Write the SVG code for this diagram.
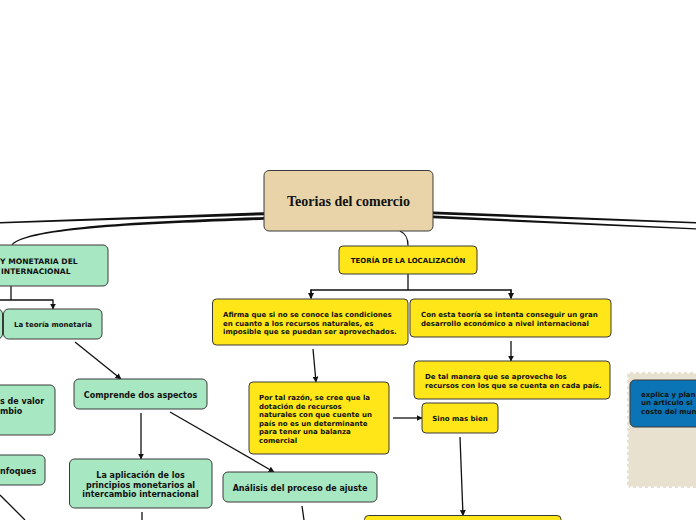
<svg xmlns="http://www.w3.org/2000/svg" width="696" height="520" viewBox="0 0 696 520">
<defs>
<marker id="arr" viewBox="0 0 10 10" refX="9" refY="5" markerWidth="6" markerHeight="6" markerUnits="userSpaceOnUse" orient="auto">
<path d="M0,0 L10,5 L0,10 Z" fill="#111"/>
</marker>
</defs>
<style>
.n rect{stroke:#3a3a3a;stroke-width:1}
.y rect{fill:#ffe619}
.g rect{fill:#a7e7c1}
.t{font-family:"DejaVu Sans",Verdana,sans-serif;font-weight:bold;fill:#111}
.ty{font-size:7px}
.tg{font-size:8px}
.c path,.c line,.c polyline{fill:none;stroke:#111;stroke-width:1.3}
.c .arr{marker-end:url(#arr)}
.c .tp{fill:#111;stroke:none}
</style>
<rect width="696" height="520" fill="#fff"/>

<g id="stamp">
<rect x="627" y="372" width="80" height="116" fill="#e8e1d0" stroke="#fff" stroke-width="3" stroke-dasharray="3 3"/>
</g>

<g class="c" id="connectors">
<path class="tp" d="M264,212.2 L0,222 L0,223.6 L264,215.2 Z"/>
<path class="tp" d="M264,217 C150,221 28,226 11.5,244.5 L12.5,245 C30,228 150,224 264,219.8 Z"/>
<path class="tp" d="M433,211.5 L696,222 L696,223.4 L433,214.3 Z"/>
<path class="tp" d="M433,215.5 L696,228.3 L696,229.6 L433,218.2 Z"/>
<path d="M400,231 C406,234 408,238 408,245.5" stroke-width="0.8"/>
<line x1="408" y1="274" x2="408" y2="290"/>
<polyline points="311,298 311,290 511,290 511,298" class=""/>
<line class="arr" x1="311" y1="289.5" x2="311" y2="298.5"/>
<line class="arr" x1="511" y1="289.5" x2="511" y2="298.5"/>
<line class="arr" x1="511" y1="341" x2="511" y2="361"/>
<line class="arr" x1="313" y1="349" x2="316" y2="382"/>
<line class="arr" x1="393" y1="418" x2="422" y2="418"/>
<line class="arr" x1="460" y1="437" x2="463" y2="515.5"/>
<line x1="11" y1="286" x2="11" y2="300"/>
<line x1="0" y1="300" x2="53" y2="300"/>
<line class="arr" x1="53" y1="299.5" x2="53" y2="309"/>
<line class="arr" x1="75" y1="342" x2="121" y2="379"/>
<line class="arr" x1="141" y1="413" x2="141" y2="459"/>
<line class="arr" x1="170" y1="412" x2="274" y2="472"/>
<line x1="142" y1="512" x2="142" y2="520"/>
<line x1="302" y1="506" x2="304" y2="520"/>
<line x1="0" y1="495" x2="25" y2="520"/>
</g>

<g id="center" class="n">
<rect x="264" y="170.5" width="169" height="60.5" rx="5" fill="#e8d4a8"/>
<text x="348.5" y="206" text-anchor="middle" font-family="'Liberation Serif','Times New Roman',serif" font-weight="bold" font-size="14" fill="#111">Teorias del comercio</text>
</g>

<g id="localizacion" class="n y">
<rect x="339" y="246" width="138" height="28" rx="4"/>
<text class="t ty" x="408" y="263" text-anchor="middle">TEORÍA DE LA LOCALIZACIÓN</text>
</g>

<g id="afirma" class="n y">
<rect x="212.5" y="299" width="195.5" height="46" rx="4"/>
<text class="t ty"><tspan x="223" y="317">Afirma que si no se conoce las condiciones</tspan><tspan x="223" y="325.5">en cuanto a los recursos naturales, es</tspan><tspan x="223" y="334">imposible que se puedan ser aprovechados.</tspan></text>
</g>

<g id="conesta" class="n y">
<rect x="410" y="299" width="201" height="38" rx="4"/>
<text class="t ty"><tspan x="421" y="317">Con esta teoría se intenta conseguir un gran</tspan><tspan x="421" y="325.5">desarrollo económico a nivel internacional</tspan></text>
</g>

<g id="detal" class="n y">
<rect x="414" y="361" width="196" height="38" rx="4"/>
<text class="t ty"><tspan x="425" y="379">De tal manera que se aproveche los</tspan><tspan x="425" y="387.5">recursos con los que se cuenta en cada país.</tspan></text>
</g>

<g id="portal" class="n y">
<rect x="249" y="382" width="140" height="72" rx="4"/>
<text class="t ty"><tspan x="259" y="400">Por tal razón, se cree que la</tspan><tspan x="259" y="408.5">dotación de recursos</tspan><tspan x="259" y="417">naturales con que cuente un</tspan><tspan x="259" y="425.5">país no es un determinante</tspan><tspan x="259" y="434">para tener una balanza</tspan><tspan x="259" y="442.5">comercial</tspan></text>
</g>

<g id="sino" class="n y">
<rect x="422" y="403" width="76" height="30" rx="4"/>
<text class="t ty" x="460" y="420.5" text-anchor="middle">Sino mas bien</text>
</g>

<g id="bottomy" class="n y">
<rect x="364.5" y="515.5" width="196.5" height="20" rx="4"/>
</g>

<g id="monetaria_del" class="n g">
<rect x="-60" y="245" width="168" height="41" rx="5"/>
<text class="t" font-size="7.6"><tspan x="0" y="264">Y MONETARIA DEL</tspan><tspan x="1" y="274">INTERNACIONAL</tspan></text>
</g>

<g id="leftcut" class="n g">
<rect x="-60" y="309" width="62.5" height="30" rx="5"/>
</g>

<g id="teoria_monetaria" class="n g">
<rect x="3.5" y="309" width="98.5" height="30" rx="5"/>
<text class="t" font-size="7" x="53" y="327" text-anchor="middle">La teoría monetaria</text>
</g>

<g id="valor" class="n g">
<rect x="-60" y="385" width="115" height="50" rx="5"/>
<text class="t tg"><tspan x="0" y="404">s de valor</tspan><tspan x="0" y="414">mbio</tspan></text>
</g>

<g id="enfoques" class="n g">
<rect x="-60" y="455" width="105" height="30" rx="5"/>
<text class="t tg" x="0" y="473.5">nfoques</text>
</g>

<g id="comprende" class="n g">
<rect x="74" y="379" width="133" height="30" rx="5"/>
<text class="t tg" x="140.5" y="398" text-anchor="middle">Comprende dos aspectos</text>
</g>

<g id="aplicacion" class="n g">
<rect x="69.5" y="459" width="142.5" height="49" rx="5"/>
<text class="t tg" text-anchor="middle"><tspan x="140.5" y="478">La aplicación de los</tspan><tspan x="140.5" y="487.5">principios monetarios al</tspan><tspan x="140.5" y="497">intercambio internacional</tspan></text>
</g>

<g id="analisis" class="n g">
<rect x="223" y="472" width="154" height="30" rx="5"/>
<text class="t tg" x="300" y="491" text-anchor="middle">Análisis del proceso de ajuste</text>
</g>

<g id="explica" class="n">
<rect x="630" y="380" width="80" height="47" rx="5" fill="#0b74b6"/>
<text class="t ty"><tspan x="641" y="397">explica y plan</tspan><tspan x="641" y="404.5">un articulo si</tspan><tspan x="641" y="414">costo del mun</tspan></text>
</g>
</svg>
